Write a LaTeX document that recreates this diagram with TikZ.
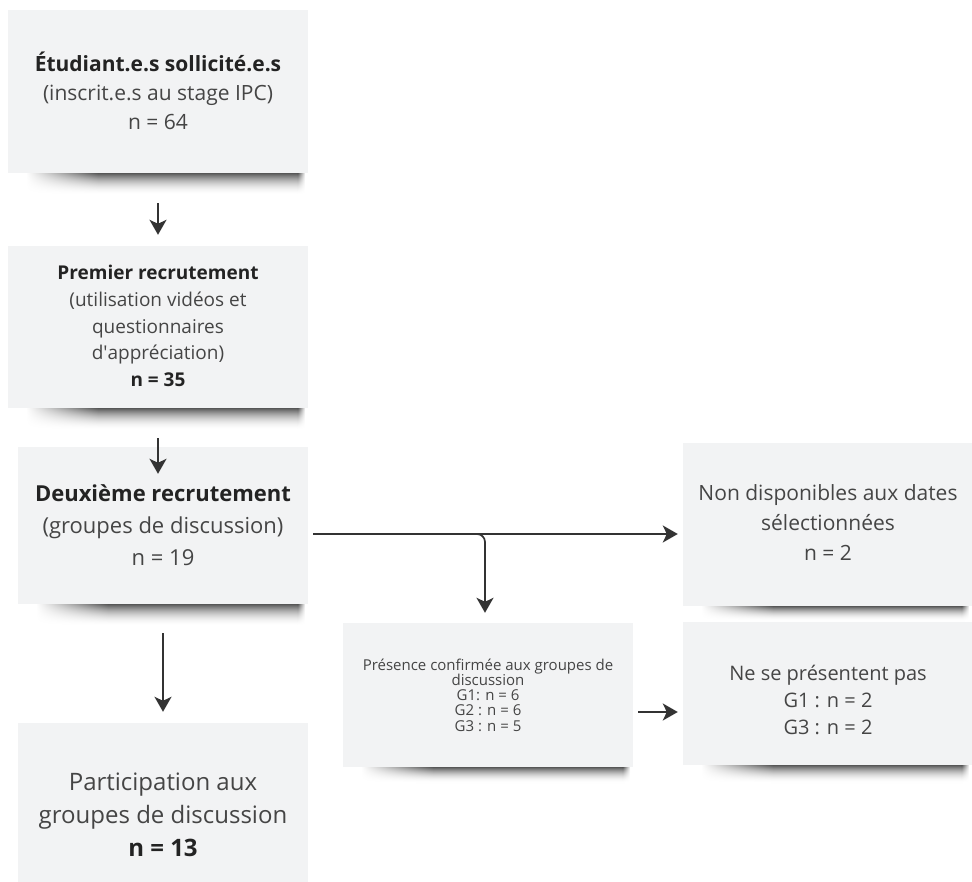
\documentclass[tikz,border=0pt]{standalone}
\usepackage{fontspec}
\setmainfont{Open Sans}
\usetikzlibrary{arrows.meta,calc}

\definecolor{boxfill}{HTML}{F2F3F4}
\definecolor{ink}{HTML}{454545}
\definecolor{inkdark}{HTML}{232323}
\definecolor{wire}{HTML}{333333}

\pgfdeclarelayer{bg}
\pgfsetlayers{bg,main}

\tikzset{
  card/.style={fill=boxfill, inner sep=0pt},
  caption/.style={align=center, text=ink, inner sep=0pt},
  flow/.style={draw=wire, line width=1.7pt, -{Stealth[length=15pt,width=17pt,inset=4pt]}},
}
% drop shadow under a card: 1pt rows, darkest along the card edge and lighter
% downwards; each row fades in from the left and out over the last few points
\newcommand\cardshadow[2]{%
  \foreach \k in {1,...,#2}{%
    \pgfmathsetmacro\shd{66*(1-(\k-1)/#2)^2}
    \shade[left color=white, right color=black!\shd]
      ($(#1.south west)+(18,\k-1)$) rectangle ($(#1.south west)+(90.4,\k+0.4)$);
    \fill[black!\shd]
      ($(#1.south west)+(90,\k-1)$) rectangle ($(#1.south east)+(-10,\k+0.4)$);
    \shade[left color=black!\shd, right color=white]
      ($(#1.south east)+(-10.4,\k-1)$) rectangle ($(#1.south east)+(-3,\k+0.4)$);
  }}
\newcommand\hl[1]{\textbf{\color{inkdark}#1}}

\begin{document}
\begin{tikzpicture}[x=1pt,y=-1pt]
\useasboundingbox (0,0) rectangle (972,882);

% cards
\node[card, minimum width=300pt, minimum height=163pt] (b1) at (158,91.5) {};
\node[card, minimum width=300pt, minimum height=162pt] (b2) at (158,327) {};
\node[card, minimum width=290pt, minimum height=157pt] (b3) at (163,525.5) {};
\node[card, minimum width=290pt, minimum height=159pt] (b4) at (163,802.5) {};
\node[card, minimum width=290pt, minimum height=144pt] (b5) at (488,695) {};
\node[card, minimum width=289pt, minimum height=143pt] (b6) at (827.5,693.5) {};
\node[card, minimum width=289pt, minimum height=163pt] (b7) at (827.5,524.5) {};

% shadows under the cards
\begin{pgfonlayer}{bg}
  \cardshadow{b1}{22}
  \cardshadow{b2}{22}
  \cardshadow{b3}{22}
  \cardshadow{b5}{16}
  \cardshadow{b6}{18}
  \cardshadow{b7}{15}
\end{pgfonlayer}

% texts
\node[caption, font=\fontsize{21}{29}\selectfont] (t1) at (158,91)
  {\hl{Étudiant.e.s sollicité.e.s}\\(inscrit.e.s au stage IPC)\\n = 64};
\node[caption, font=\fontsize{19}{26.7}\selectfont] (t2) at (158,326)
  {\hl{Premier recrutement}\\(utilisation vidéos et\\questionnaires\\d\textquotesingle appréciation)\\\hl{n = 35}};
\node[caption, font=\fontsize{22}{32}\selectfont] (t3) at (163,525)
  {\hl{Deuxième recrutement}\\(groupes de discussion)\\n = 19};
\node[caption, font=\fontsize{24}{33}\selectfont] (t4) at (163,815)
  {Participation aux\\groupes de discussion\\\hl{n = 13}};
\node[caption, font=\fontsize{15}{15.3}\selectfont] (t5) at (488,695)
  {Présence confirmée aux groupes de\\discussion\\G1: n = 6\\G2 : n = 6\\G3 : n = 5};
\node[caption, font=\fontsize{20}{27}\selectfont] (t6) at (828,700)
  {Ne se présentent pas\\G1 : n = 2\\G3 : n = 2};
\node[caption, font=\fontsize{21}{30}\selectfont] (t7) at (828,523)
  {Non disponibles aux dates\\sélectionnées\\n = 2};

% connectors
\draw[flow, shorten <=30pt, shorten >=11pt] (b1.south) -- (b2.north);
\draw[flow, shorten <=30pt, shorten >=-27pt] (b2.south) -- (b2.south |- b3.north);
\draw[flow, shorten <=29pt, shorten >=11pt] (b3.south) -- (b4.north);
\coordinate (split) at (485,534);
\draw[flow, shorten <=5pt, shorten >=5pt] (b3.east |- split) -- (b7.west |- split);
\draw[flow, rounded corners=8pt, shorten >=10pt] ($(split)+(-14,0)$) -- (split) -- (split |- b5.north);
\draw[flow, shorten <=5pt, shorten >=5pt] ($(b5.east)+(0,17)$) -- ($(b6.west)+(0,18.5)$);
\end{tikzpicture}
\end{document}
